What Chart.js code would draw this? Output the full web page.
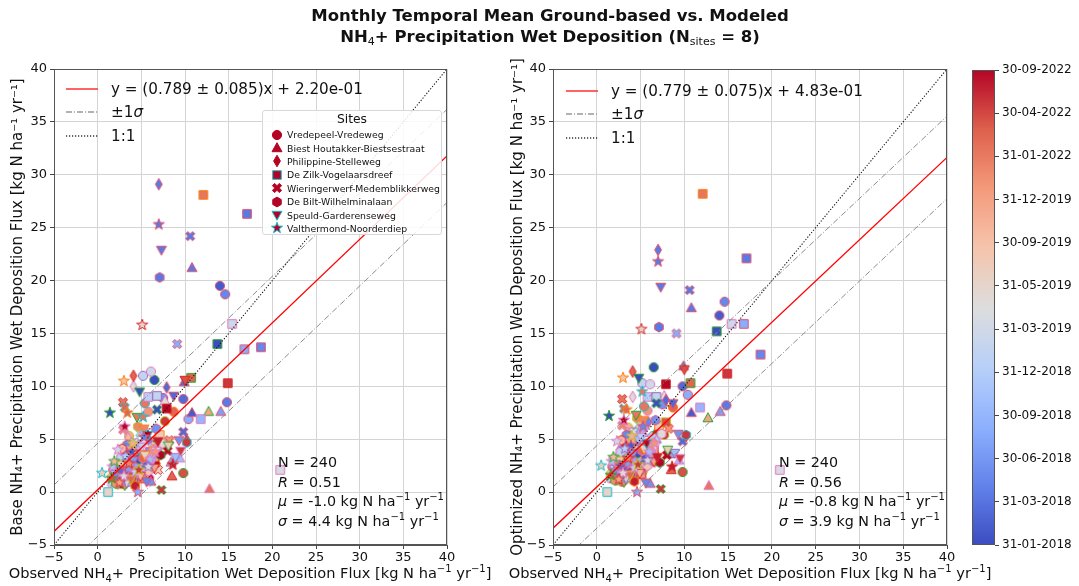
<!DOCTYPE html>
<html>
<head>
<meta charset="utf-8">
<script src="https://cdn.jsdelivr.net/npm/chart.js@4.4.0/dist/chart.umd.min.js"></script>
<style>
  body { margin: 0; background: #fff; font-family: "DejaVu Sans", sans-serif; color: #111; }
  #wrap { position: relative; width: 1079px; height: 586px; overflow: hidden; }
  #wrap canvas { position: absolute; top: 0; }
  .title { position: absolute; left: 0; top: 5px; width: 1100px; text-align: center;
           font-weight: bold; font-size: 16.5px; line-height: 21px; }
  .title sub { font-size: 11px; font-weight: normal; vertical-align: -3px; line-height: 0; }
  .xtitle { position: absolute; top: 563px; width: 520px; text-align: center; font-size: 14.6px;
            line-height: 20px; white-space: nowrap; }
  .xtitle sub, .xtitle sup { font-size: 10px; line-height: 0; }
  .fitleg { position: absolute; font-size: 15.2px; }
  .fitleg .row { display: flex; align-items: center; height: 23.5px; white-space: nowrap; }
  .fitleg svg { margin-right: 13px; }
  .sitesleg { position: absolute; width: 178px; height: 123px; border: 1px solid #d8d8d8;
              border-radius: 3px; background: rgba(255,255,255,0.85); font-size: 9.3px; }
  .sitesleg .head { text-align: center; font-size: 12.3px; margin-top: 1px; height: 16px; }
  .sitesleg .row { display: flex; align-items: center; height: 13.4px; white-space: nowrap; }
  .sitesleg canvas { position: static !important; margin: 0 2px 0 6px; }
  .stats { position: absolute; font-size: 14.3px; line-height: 19.5px; white-space: nowrap; }
  .stats sup { font-size: 10px; line-height: 0; }
</style>
</head>
<body>
<div id="wrap">
  <canvas id="cBase" width="500" height="586" style="left:0;width:500px;height:586px"></canvas>
  <canvas id="cOpt" width="460" height="586" style="left:500px;width:460px;height:586px"></canvas>
  <canvas id="cBar" width="119" height="586" style="left:960px;width:119px;height:586px"></canvas>
  <div class="title">Monthly Temporal Mean Ground-based vs. Modeled<br>NH<sub>4</sub>+ Precipitation Wet Deposition (N<sub>sites</sub> = 8)</div>
</div>
<script>
// ---------------- data ----------------
const sites = [
  "Vredepeel-Vredeweg", "Biest Houtakker-Biestsestraat", "Philippine-Stelleweg",
  "De Zilk-Vogelaarsdreef", "Wieringerwerf-Medemblikkerweg", "De Bilt-Wilhelminalaan",
  "Speuld-Garderenseweg", "Valthermond-Noorderdiep"
];

// 30 monthly means per site (colour = position in this list)
const months = [
  "2018-01","2018-02","2018-03","2018-04","2018-05","2018-06","2018-07","2018-08","2018-09","2018-10",
  "2018-11","2018-12","2019-01","2019-02","2019-03","2019-04","2019-05","2019-06","2019-07","2019-08",
  "2019-09","2019-10","2019-11","2019-12","2022-01","2022-03","2022-04","2022-06","2022-08","2022-09"
];

const cbLabels = ["31-01-2018","31-03-2018","30-06-2018","30-09-2018","31-12-2018","31-03-2019",
                  "31-05-2019","30-09-2019","31-12-2019","31-01-2022","30-04-2022","30-09-2022"];

// observed flux, one row per site (same order as sites)
const obs = [
  [6.5,14.0,9.8,14.8,14.6,7.5,3.2,10.4,4.4,2.6,3.8,5.6,5.2,6.1,2.0,4.9,3.1,6.4,2.4,4.3,3.6,1.8,5.8,2.9,5.4,8.7,9.8,7.7,3.3,5.9],
  [4.1,10.8,9.9,10.8,5.5,6.1,14.1,8.4,2.7,9.4,3.5,6.8,4.8,2.2,5.3,7.7,3.0,4.6,6.3,2.5,3.9,12.7,5.1,1.9,12.8,8.5,4.5,3.4,6.9,2.8],
  [3.6,2.1,7.9,7.0,5.9,3.0,4.3,2.6,5.0,1.7,3.8,2.3,6.6,3.2,4.7,4.1,2.9,5.4,1.5,3.5,6.2,2.4,4.4,3.1,5.7,4.1,2.0,10.2,3.9,6.8],
  [13.7,5.3,3.9,17.1,18.7,6.0,2.8,16.8,11.8,4.5,2.2,5.8,6.8,15.4,20.9,3.4,1.2,7.1,4.8,2.5,6.5,3.7,5.1,2.7,12.1,10.7,7.9,14.9,4.0,7.9],
  [6.8,3.3,9.8,10.6,2.4,5.0,3.8,9.1,2.0,4.6,6.3,3.0,1.6,5.5,4.2,2.6,3.5,6.9,4.9,2.2,3.7,5.7,8.2,2.9,2.9,3.1,4.4,7.3,6.0,8.0],
  [4.7,5.6,2.9,7.1,3.4,6.7,2.3,4.2,5.3,1.9,3.6,6.1,2.7,4.9,3.2,7.4,1.6,4.0,5.8,2.8,3.5,6.4,2.1,4.6,3.8,5.2,2.5,10.2,4.3,7.2],
  [4.8,3.1,8.7,7.3,5.6,9.3,4.1,2.4,6.2,8.9,3.6,5.1,2.0,4.4,6.7,3.3,5.4,8.1,2.6,4.9,3.9,6.5,2.2,5.3,4.5,3.8,10.0,9.5,6.9,5.7],
  [1.4,3.9,2.6,7.0,5.3,2.0,3.5,4.6,2.8,6.0,1.7,3.2,4.3,2.3,5.8,3.0,5.1,0.5,3.0,1.9,4.0,2.5,6.6,3.6,5.2,3.4,1.6,4.7,8.6,3.1]
];

// base model flux
const base = [
  [10.6,19.5,8.8,8.5,18.7,8.9,2.4,6.9,4.6,1.8,3.1,2.2,11.0,11.4,1.4,3.4,1.2,4.8,2.6,1.6,5.3,2.1,7.6,0.8,8.4,7.6,1.8,6.7,3.6,1.3],
  [2.9,7.5,10.4,21.2,3.3,1.0,7.6,2.8,2.0,3.2,1.4,4.4,2.3,1.1,4.9,8.6,2.7,1.7,3.7,0.9,3.9,7.6,2.5,1.5,0.3,1.5,3.0,1.9,5.1,0.7],
  [2.0,1.3,9.9,29.1,4.9,2.7,1.0,3.4,2.2,1.6,4.3,0.8,3.0,1.8,3.9,10.0,2.4,1.5,1.1,5.1,2.6,2.9,1.9,0.7,3.5,11.0,2.2,4.9,1.4,2.7],
  [14.0,2.6,1.7,26.3,13.7,3.8,2.3,13.5,6.9,4.1,1.9,9.0,9.1,15.9,2.1,3.0,0.0,5.4,2.9,1.2,3.3,4.4,1.3,2.8,28.1,10.8,4.5,10.3,2.5,7.9],
  [7.8,2.4,5.7,24.2,1.5,3.6,1.2,14.0,2.0,2.6,4.2,3.2,0.9,1.9,4.7,1.1,2.8,2.1,5.6,2.5,0.9,3.0,4.9,5.9,8.5,8.0,1.7,0.2,3.4,3.9],
  [3.1,2.9,1.7,20.3,4.5,6.0,1.2,2.4,5.8,2.5,1.0,3.6,3.3,1.6,2.1,4.6,1.4,3.8,2.0,4.1,2.6,4.0,0.8,6.2,1.3,3.2,2.3,4.7,0.6,3.5],
  [9.5,1.8,9.1,22.9,1.0,4.9,3.0,1.4,2.9,3.3,2.4,4.3,1.7,2.0,3.9,0.9,3.5,4.4,2.6,1.5,4.0,2.3,2.0,6.0,7.1,1.2,10.6,3.9,4.8,5.4],
  [7.5,3.8,2.0,25.3,5.2,1.6,2.2,0.0,1.1,3.1,2.4,3.4,1.9,4.0,2.4,1.5,15.8,1.8,10.5,2.9,4.6,0.9,3.8,2.7,7.1,7.5,1.3,2.1,2.6,6.2]
];

// optimized model flux
const opt = [
  [11.8,16.7,10.0,8.2,18.0,8.3,2.9,9.2,5.7,2.2,3.6,2.6,10.3,10.2,1.6,4.1,1.4,5.3,3.0,1.9,6.1,2.4,7.7,1.0,8.1,8.0,1.9,5.4,4.5,2.7],
  [3.4,7.5,11.9,17.4,3.9,0.8,7.6,3.6,2.6,3.0,1.8,5.0,2.8,1.5,5.6,9.1,3.3,2.1,4.6,1.2,4.7,7.0,3.2,2.0,0.6,2.1,3.1,2.3,5.9,1.1],
  [2.5,1.9,8.7,22.9,6.6,3.0,1.3,4.0,2.6,2.0,5.1,1.2,3.7,2.2,4.2,9.0,2.8,1.9,1.4,5.6,3.2,3.4,2.4,1.0,4.3,11.4,2.7,5.3,1.8,3.5],
  [15.2,3.0,2.3,22.1,13.0,4.6,2.9,15.9,8.0,5.0,2.3,9.0,9.0,15.9,2.1,3.5,0.0,6.3,3.4,1.6,4.0,5.3,1.7,3.3,28.2,10.3,6.6,11.2,3.1,10.2],
  [8.4,3.0,4.8,19.1,1.9,4.3,1.6,15.0,2.5,3.3,5.1,3.9,1.3,2.4,5.7,1.5,3.4,2.8,6.4,2.9,1.2,3.8,6.0,6.3,8.8,7.9,2.1,0.3,4.5,3.5],
  [3.7,3.4,2.1,15.6,5.4,6.8,1.6,2.9,6.1,3.1,1.4,4.4,3.8,2.0,2.6,5.5,1.7,4.6,2.5,4.9,3.2,4.6,1.1,7.0,1.7,3.9,2.7,5.4,1.0,2.8],
  [10.8,2.3,8.4,19.4,0.9,5.5,3.6,1.9,3.5,3.7,2.8,5.2,2.2,2.6,4.4,1.3,4.1,4.0,3.0,1.8,4.7,2.9,2.6,6.8,7.3,1.6,11.6,3.2,3.3,4.6],
  [7.2,4.4,2.5,21.8,6.2,2.0,2.7,0.0,1.4,3.8,2.9,4.1,2.3,4.8,3.0,1.8,15.4,2.5,10.8,3.3,5.3,1.2,4.6,3.2,9.5,7.8,1.6,2.6,2.4,6.8]
];

// regression / summary numbers, [base, optimized]
const fitSlope = [0.789, 0.779];
const fitSlopeErr = [0.085, 0.075];
const fitIntercept = [0.220, 0.483];
const fitSigma = [4.4, 3.9];
const statR = [0.51, 0.56];
const statMu = [-1.0, -0.8];
const statN = 240;

const axisMin = -5, axisMax = 40, axisStep = 5;

// ---------------- styling helpers ----------------
Chart.defaults.font.family = "'DejaVu Sans', sans-serif";
Chart.defaults.color = "#111";

const siteMarkers = ["o", "^", "d", "s", "X", "h", "v", "*"];

const CW = [[59,76,192],[98,130,234],[141,176,254],[184,208,249],[221,221,221],
            [245,196,172],[244,154,123],[222,96,77],[180,4,38]];
function coolwarm(t) {
  t = Math.max(0, Math.min(1, t));
  const p = t * (CW.length - 1);
  const i = Math.min(Math.floor(p), CW.length - 2);
  const f = p - i;
  const c = CW[i].map((v, k) => Math.round(v + (CW[i + 1][k] - v) * f));
  return "rgb(" + c.join(",") + ")";
}

const edgeSet = ["#d62728", "#2ca02c", "#17becf", "#e377c2", "#bcbd22", "#ff7f0e", "#d62728"];
function edgeFor(k, i) {
  if (i < 8) return i === 0 ? "#2ca02c" : "#e0506a";
  if (i < 16) return (i + k) % 3 === 0 ? "#9467bd" : "#e377c2";
  return edgeSet[(i * 3 + k) % edgeSet.length];
}

const markerCache = {};
function marker(shape, fill, edge) {
  const key = shape + fill + edge;
  if (markerCache[key]) return markerCache[key];
  const c = document.createElement("canvas");
  c.width = c.height = 16;
  const g = c.getContext("2d");
  g.translate(8, 8);
  g.beginPath();
  if (shape === "o") {
    g.arc(0, 0, 4.6, 0, Math.PI * 2);
  } else if (shape === "^") {
    g.moveTo(0, -5.3); g.lineTo(5.0, 3.7); g.lineTo(-5.0, 3.7);
  } else if (shape === "v") {
    g.moveTo(0, 5.3); g.lineTo(5.0, -3.7); g.lineTo(-5.0, -3.7);
  } else if (shape === "d") {
    g.moveTo(0, -5.8); g.lineTo(3.4, 0); g.lineTo(0, 5.8); g.lineTo(-3.4, 0);
  } else if (shape === "s") {
    g.rect(-4.3, -4.3, 8.6, 8.6);
  } else if (shape === "X") {
    const h = 1.6, L = 4.9;
    const pts = [[-h,-L],[h,-L],[h,-h],[L,-h],[L,h],[h,h],[h,L],[-h,L],[-h,h],[-L,h],[-L,-h],[-h,-h]];
    const a = Math.PI / 4, ca = Math.cos(a), sa = Math.sin(a);
    pts.forEach(([x, y], j) => {
      const X = x * ca - y * sa, Y = x * sa + y * ca;
      j ? g.lineTo(X, Y) : g.moveTo(X, Y);
    });
  } else if (shape === "h") {
    for (let j = 0; j < 6; j++) {
      const a = -Math.PI / 2 + j * Math.PI / 3;
      const X = 4.9 * Math.cos(a), Y = 4.9 * Math.sin(a);
      j ? g.lineTo(X, Y) : g.moveTo(X, Y);
    }
  } else if (shape === "*") {
    for (let j = 0; j < 10; j++) {
      const r = j % 2 ? 2.4 : 5.8;
      const a = -Math.PI / 2 + j * Math.PI / 5;
      const X = r * Math.cos(a), Y = r * Math.sin(a);
      j ? g.lineTo(X, Y) : g.moveTo(X, Y);
    }
  }
  g.closePath();
  g.fillStyle = fill;
  g.fill();
  g.lineWidth = 1;
  g.strokeStyle = edge;
  g.stroke();
  markerCache[key] = c;
  return c;
}

const fmtTick = v => (v < 0 ? "\u2212" + (-v) : String(v));

const framePlugin = {
  id: "frame",
  afterDraw(chart) {
    const { ctx, chartArea: a } = chart;
    ctx.save();
    ctx.strokeStyle = "#555";
    ctx.lineWidth = 1;
    ctx.strokeRect(a.left + 0.5, a.top + 0.5, a.right - a.left - 1, a.bottom - a.top - 1);
    ctx.restore();
  }
};

// ---------------- scatter panels ----------------
function makePanel(id, panel, yTitle, padRight) {
  const ys = panel === 0 ? base : opt;
  const m = fitSlope[panel], b = fitIntercept[panel], sd = fitSigma[panel];
  const lineSet = (off, color, dash, width) => ({
    data: [{ x: axisMin, y: m * axisMin + b + off }, { x: axisMax, y: m * axisMax + b + off }],
    showLine: true, pointRadius: 0, borderWidth: width, borderColor: color, borderDash: dash, order: 0
  });

  const datasets = [
    lineSet(0, "#ff0000", [], 1.3),
    lineSet(sd, "#8c8c8c", [6, 2, 1, 2], 1),
    lineSet(-sd, "#8c8c8c", [6, 2, 1, 2], 1),
    {
      data: [{ x: axisMin, y: axisMin }, { x: axisMax, y: axisMax }],
      showLine: true, pointRadius: 0, borderWidth: 1.1, borderColor: "#111", borderDash: [1.2, 1.8], order: 1
    }
  ];

  sites.forEach((s, k) => {
    datasets.push({
      label: s,
      data: obs[k].map((x, i) => ({ x, y: ys[k][i] })),
      pointRadius: 5,
      pointStyle: c => c.dataIndex == null ? "circle"
        : marker(siteMarkers[k], coolwarm(c.dataIndex / (months.length - 1)), edgeFor(k, c.dataIndex)),
      order: 20 - k
    });
  });

  const axisCommon = {
    type: "linear", min: axisMin, max: axisMax,
    ticks: { stepSize: axisStep, callback: fmtTick, font: { size: 13 }, color: "#111", maxRotation: 0 },
    grid: { color: "#d4d4d4", lineWidth: 1, tickLength: 4, tickColor: "#444" },
    border: { color: "#555" }
  };

  return new Chart(document.getElementById(id), {
    type: "scatter",
    data: { datasets },
    options: {
      responsive: false,
      animation: false,
      devicePixelRatio: 1,
      layout: { padding: { left: 0, top: 69, right: padRight, bottom: 0 } },
      plugins: { legend: { display: false }, tooltip: { enabled: false } },
      scales: {
        x: {
          ...axisCommon,
          ticks: { ...axisCommon.ticks, padding: 1 },
          afterFit: s => { s.height = 41; }
        },
        y: {
          ...axisCommon,
          ticks: { ...axisCommon.ticks, padding: 3 },
          title: { display: true, font: { size: 15 }, color: "#111", padding: { top: 9, bottom: 0 }, text: yTitle },
          afterFit: s => { s.width = panel === 0 ? 54 : 53; }
        }
      }
    },
    plugins: [framePlugin]
  });
}

makePanel("cBase", 0, "Base NH\u2084+ Precipitation Wet Deposition Flux [kg N ha\u207b\u00b9 yr\u207b\u00b9]", 53);
makePanel("cOpt", 1, "Optimized NH\u2084+ Precipitation Wet Deposition Flux [kg N ha\u207b\u00b9 yr\u207b\u00b9]", 13);

// ---------------- colour bar ----------------
const gradientPlugin = {
  id: "cbGradient",
  beforeDatasetsDraw(chart) {
    const { ctx, chartArea: a } = chart;
    const gr = ctx.createLinearGradient(0, a.bottom, 0, a.top);
    for (let j = 0; j <= 32; j++) gr.addColorStop(j / 32, coolwarm(j / 32));
    ctx.save();
    ctx.fillStyle = gr;
    ctx.fillRect(a.left, a.top, a.right - a.left, a.bottom - a.top);
    ctx.restore();
  }
};

new Chart(document.getElementById("cBar"), {
  type: "scatter",
  data: { datasets: [] },
  options: {
    responsive: false,
    animation: false,
    devicePixelRatio: 1,
    layout: { padding: { left: 12, top: 70, right: 0, bottom: 41 } },
    plugins: { legend: { display: false }, tooltip: { enabled: false } },
    scales: {
      x: { display: false, min: 0, max: 1 },
      y: {
        position: "right", min: 0, max: cbLabels.length - 1,
        ticks: { stepSize: 1, autoSkip: false, font: { size: 12 }, color: "#111", padding: 3,
                 callback: v => cbLabels[v] },
        grid: { drawOnChartArea: false, tickLength: 4, tickColor: "#444" },
        border: { display: false },
        afterFit: s => { s.width = 84; }
      }
    }
  },
  plugins: [gradientPlugin, framePlugin]
});

// ---------------- legends & annotations (HTML text) ----------------
const wrap = document.getElementById("wrap");
const fmtExp = v => {
  const [mant, ex] = v.toExponential(2).split("e");
  const n = parseInt(ex, 10);
  return mant + "e" + (n < 0 ? "-" : "+") + String(Math.abs(n)).padStart(2, "0");
};
const sample = (color, dash) =>
  `<svg width="32" height="10"><line x1="0" y1="5" x2="32" y2="5" stroke="${color}" stroke-width="1.5" ${dash ? `stroke-dasharray="${dash}"` : ""}/></svg>`;

[66, 566].forEach((left, p) => {
  const leg = document.createElement("div");
  leg.className = "fitleg";
  leg.style.left = left + "px";
  leg.style.top = (p === 0 ? 77 : 79) + "px";
  leg.innerHTML =
    `<div class="row">${sample("#ff3030")}<span>y = (${fitSlope[p].toFixed(3)} \u00b1 ${fitSlopeErr[p].toFixed(3)})x + ${fmtExp(fitIntercept[p])}</span></div>` +
    `<div class="row">${sample("#999999", "6,2,1,2")}<span>\u00b11<i>\u03c3</i></span></div>` +
    `<div class="row">${sample("#333333", "1.2,1.8")}<span>1:1</span></div>`;
  wrap.appendChild(leg);

  const st = document.createElement("div");
  st.className = "stats";
  st.style.left = (p === 0 ? 278 : 779) + "px";
  st.style.top = "453px";
  const unit = "kg N ha<sup>\u22121</sup> yr<sup>\u22121</sup>";
  st.innerHTML =
    `N = ${statN}<br><i>R</i> = ${statR[p].toFixed(2)}<br>` +
    `<i>\u03bc</i> = ${statMu[p].toFixed(1)} ${unit}<br>` +
    `<i>\u03c3</i> = ${fitSigma[p].toFixed(1)} ${unit}`;
  wrap.appendChild(st);

  // x-axis title, centred under each plot area
  const xt = document.createElement("div");
  xt.className = "xtitle";
  xt.style.left = ((p === 0 ? 250 : 750) - 260) + "px";
  xt.innerHTML = "Observed NH<sub>4</sub>+ Precipitation Wet Deposition Flux [kg N ha<sup>\u22121</sup> yr<sup>\u22121</sup>]";
  wrap.appendChild(xt);
});

const sl = document.createElement("div");
sl.className = "sitesleg";
sl.style.left = "262px";
sl.style.top = "110px";
sl.innerHTML = `<div class="head">Sites</div>`;
const legendEdge = ["#b40426", "#b40426", "#b40426", "#17becf", "#b40426", "#b40426", "#17becf", "#17becf"];
sites.forEach((s, k) => {
  const row = document.createElement("div");
  row.className = "row";
  const mk = marker(siteMarkers[k], coolwarm(1), legendEdge[k]);
  const c = document.createElement("canvas");
  c.width = c.height = 16;
  c.getContext("2d").drawImage(mk, 0, 0);
  row.appendChild(c);
  const t = document.createElement("span");
  t.textContent = s;
  row.appendChild(t);
  sl.appendChild(row);
});
wrap.appendChild(sl);
</script>
</body>
</html>
